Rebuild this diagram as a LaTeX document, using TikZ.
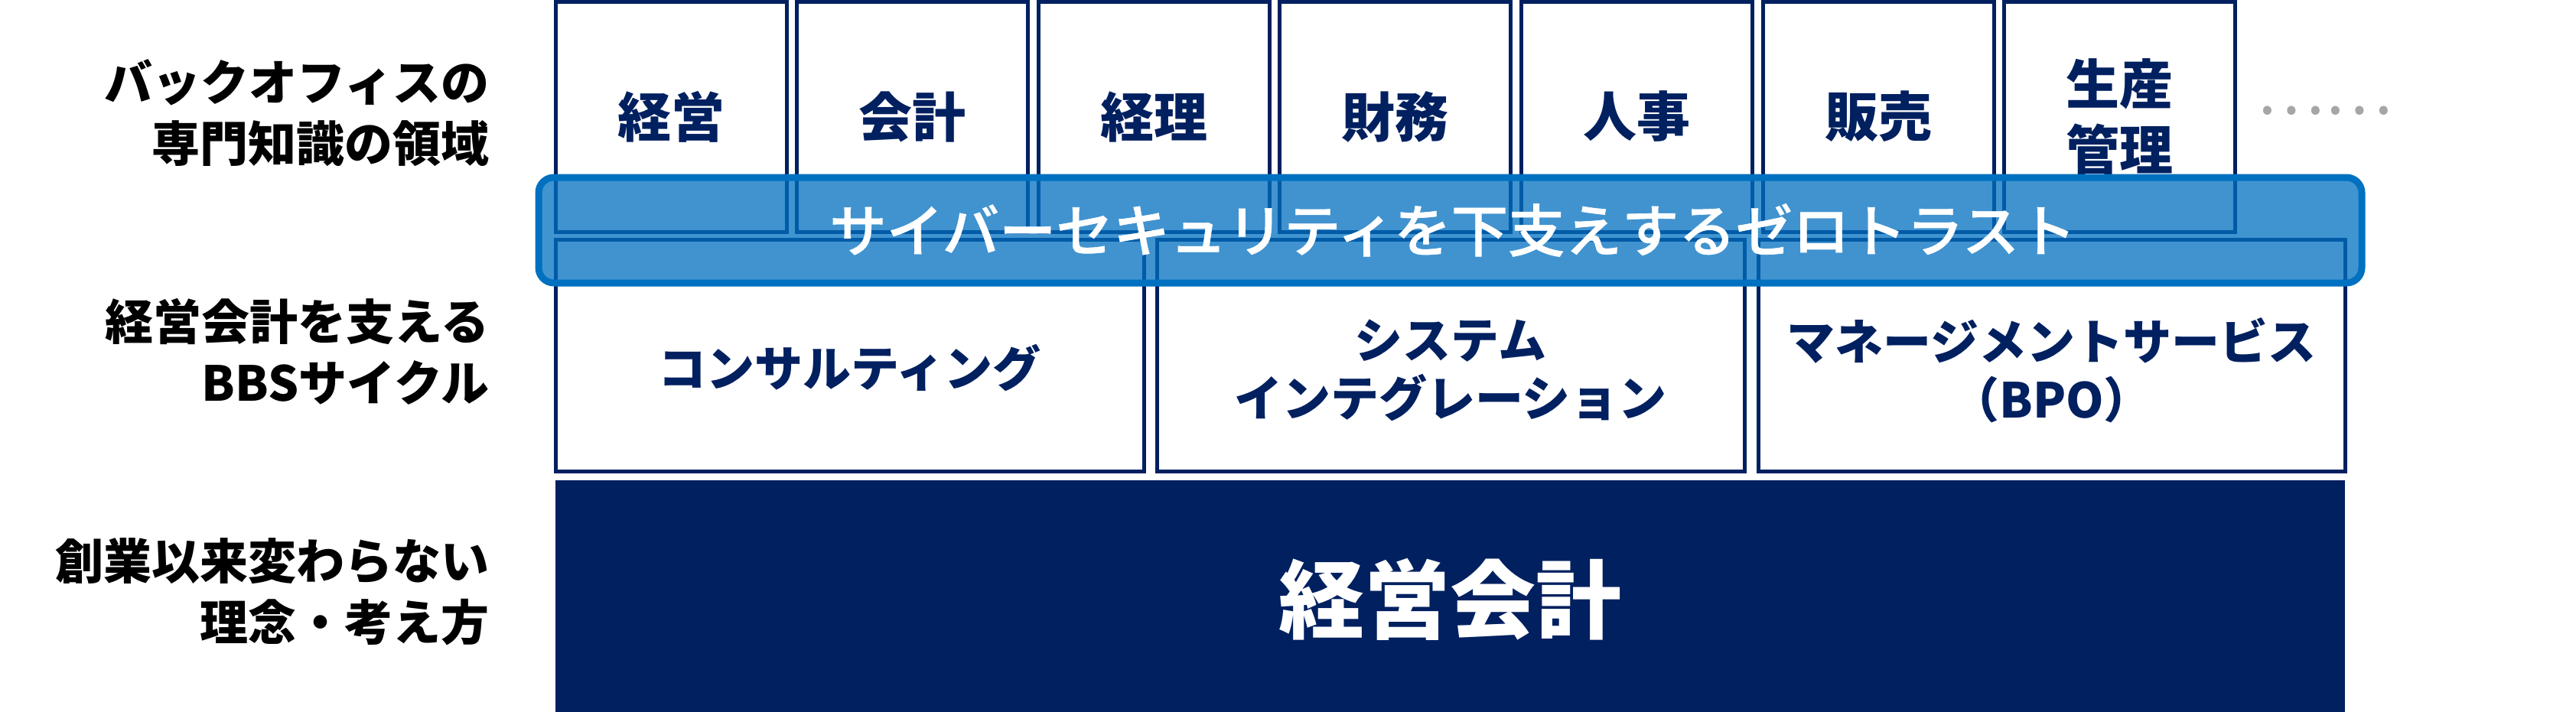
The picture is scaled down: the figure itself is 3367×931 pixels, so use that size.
\documentclass[tikz,border=0pt]{standalone}
\usepackage{fontspec}
\setmainfont{Noto Sans CJK JP}
\newfontfamily\jpmed[FakeBold=0.8]{Noto Sans CJK JP Medium}
\definecolor{navy}{HTML}{002060}
\definecolor{bandblue}{HTML}{0070C0}
\definecolor{dotgray}{HTML}{A6A6A6}
\begin{document}
\begin{tikzpicture}[x=0.25pt,y=-0.25pt,
  topbox/.style={draw=navy,line width=1.25pt,fill=white,minimum width=75.5pt,minimum height=75.25pt,inner sep=0pt,
    text=navy,font=\fontsize{17.5}{21.5}\selectfont\bfseries,align=center},
  midbox/.style={draw=navy,line width=1.25pt,fill=white,minimum height=75.75pt,inner sep=0pt},
  midtext/.style={text=navy,font=\fontsize{15.75}{19}\selectfont\bfseries,align=center,inner sep=0pt},
  sidelabel/.style={anchor=east,text=black,font=\fontsize{15.75}{20}\selectfont\bfseries,align=right,inner sep=0pt},
  band/.style={fill=bandblue,fill opacity=0.75,draw=bandblue,draw opacity=1,line width=2.25pt,rounded corners=5pt},
  bandtext/.style={text=white,font=\jpmed\fontsize{18.6}{22}\selectfont,inner sep=0pt},
  basebox/.style={fill=navy,draw=none,minimum width=584.75pt,minimum height=78pt,inner sep=0pt},
  basetext/.style={text=white,font=\fontsize{28}{32}\selectfont\bfseries,inner sep=0pt}
]
\useasboundingbox (0,0) rectangle (3367,931);
% top row
\node[topbox] (t1) at (877,152.5) {経営};
\node[topbox] (t2) at (1192.6,152.5) {会計};
\node[topbox] (t3) at (1508.2,152.5) {経理};
\node[topbox] (t4) at (1823.8,152.5) {財務};
\node[topbox] (t5) at (2139.4,152.5) {人事};
\node[topbox] (t6) at (2455,152.5) {販売};
\node[topbox] (t7) at (2770.6,152.5) {生産\\管理};
\node[text=dotgray,font=\fontsize{21}{21}\selectfont,inner sep=0pt] (dots) at (3038,145) {……};
% middle row
\node[midbox,minimum width=192.25pt] (m1) at (1110.5,464.5) {};
\node[midbox,minimum width=192pt] (m2) at (1896,464.5) {};
\node[midbox,minimum width=191.75pt] (m3) at (2681.5,464.5) {};
\node[midtext] (m1t) at (1110.5,481) {コンサルティング};
\node[midtext] (m2t) at (1896,484) {システム\\インテグレーション};
\node[midtext] (m3t) at (2681.5,484) {マネージメントサービス\\（BPO）};
% base
\node[basebox] (base) at (1895.5,784) {};
\node[basetext] (baset) at (1895.5,784) {経営会計};
% band
\path[band] (704,232) rectangle (3087,370);
\node[bandtext] (bandt) at (1899,301) {サイバーセキュリティを下支えするゼロトラスト};
% side labels
\node[sidelabel] (s1) at (640,148) {バックオフィスの\\専門知識の領域};
\node[sidelabel] (s2) at (640,460) {経営会計を支える\\BBSサイクル};
\node[sidelabel] (s3) at (640,774) {創業以来変わらない\\理念・考え方};
\end{tikzpicture}
\end{document}
